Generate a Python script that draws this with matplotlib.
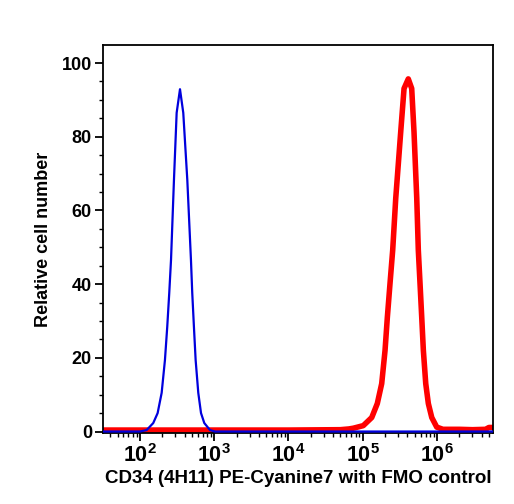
import matplotlib
matplotlib.use("Agg")
import matplotlib.pyplot as plt
from matplotlib.ticker import LogLocator, NullFormatter, MultipleLocator

# FMO control (blue)
blue_x = [32, 100, 123, 151, 173, 196, 217, 233, 248, 262, 287, 312, 346, 383, 434,
          486, 506, 533, 562, 610, 664, 735, 877, 1023, 5.7e6]
blue_y = [0, 0, 0.4, 2.3, 5.0, 10.5, 19.4, 28.4, 37.6, 46.6, 68.3, 86.5, 92.9, 86.5, 68.3,
          46.6, 37.6, 28.4, 19.4, 10.5, 5.0, 2.3, 0.4, 0, 0]

# CD34 PE-Cyanine7 (red)
red_x = [32, 1e4, 5e4, 65000, 74600, 101600, 132100, 157000, 179900, 199500, 214300,
         232800, 252900, 278000, 324300, 359700, 410200, 456000, 489800, 533300, 559800,
         590200, 622300, 654600, 704700, 763800, 849200, 990800, 1.2e6, 2e6, 3e6, 4.5e6,
         5e6, 5.7e6]
red_y = [0.4, 0.4, 0.5, 0.7, 0.9, 1.6, 3.8, 7.6, 13.0, 22.0, 31.0,
         40.2, 49.2, 63.3, 81.3, 93.1, 95.7, 93.1, 81.3, 63.3, 49.2,
         40.2, 31.0, 22.0, 13.0, 7.6, 3.8, 1.2, 0.6, 0.6, 0.5, 0.6,
         1.1, 1.1]

y_ticks = [0, 20, 40, 60, 80, 100]
x_label = "CD34 (4H11) PE-Cyanine7 with FMO control"
y_label = "Relative cell number"

plt.rcParams['font.family'] = ['Liberation Sans', 'DejaVu Sans']

fig = plt.figure(figsize=(5.14, 5.04), dpi=100)
ax = fig.add_axes([103/514, 1-433/504, (493-103)/514, (433-45)/504])

ax.plot(red_x, red_y, color='#ff0000', lw=4.0, solid_joinstyle='round', zorder=2)
ax.plot(blue_x, blue_y, color='#0000dd', lw=1.6, zorder=3)

ax.set_xscale('log')
ax.set_xlim(31.8, 5.67e6)
ax.set_ylim(-0.4, 104.9)

ax.set_yticks(y_ticks)
ax.yaxis.set_minor_locator(MultipleLocator(5))
ax.xaxis.set_major_locator(LogLocator(base=10, numticks=10))
ax.xaxis.set_minor_locator(LogLocator(base=10, subs=range(2, 10), numticks=100))
ax.xaxis.set_minor_formatter(NullFormatter())

ax.tick_params(axis='both', which='major', direction='out', length=6, width=1.3,
               top=False, right=False)
ax.tick_params(axis='both', which='minor', direction='out', length=3, width=1.0,
               top=False, right=False)
ax.tick_params(axis='y', labelsize=13, pad=2)
ax.tick_params(axis='x', labelsize=15.5, pad=2)
for lab in ax.get_xticklabels() + ax.get_yticklabels():
    lab.set_fontweight('bold')

for s in ax.spines.values():
    s.set_linewidth(1.3)

ax.set_xlabel(x_label, fontsize=13.5, fontweight='bold', labelpad=2)
ax.set_ylabel(y_label, fontsize=13, fontweight='bold', labelpad=7)

fig.savefig("out.png", dpi=100)
